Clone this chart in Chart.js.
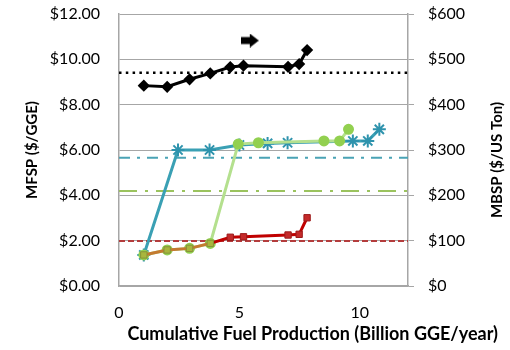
<!DOCTYPE html>
<html>
<head>
<meta charset="utf-8">
<script src="https://cdn.jsdelivr.net/npm/chart.js@4/dist/chart.umd.min.js"></script>
<style>
  html, body { margin: 0; padding: 0; background: #ffffff; }
  #wrap { width: 510px; height: 350px; }
</style>
</head>
<body>
<div id="wrap"><canvas id="c" width="510" height="350"></canvas></div>
<script>
// ---- data ----
const blackX = [1.03, 2.0, 2.93, 3.79, 4.62, 5.17, 7.02, 7.48, 7.81];
const blackY = [8.84, 8.79, 9.12, 9.38, 9.66, 9.72, 9.67, 9.79, 10.41];

const redX = [1.03, 2.0, 2.93, 3.79, 4.62, 5.17, 7.02, 7.48, 7.81];
const redY = [1.37, 1.59, 1.66, 1.88, 2.15, 2.17, 2.25, 2.28, 3.01];

const greenX = [1.03, 2.0, 2.93, 3.79, 4.95, 5.79, 8.51, 9.16, 9.53];
const greenY = [1.37, 1.59, 1.66, 1.88, 6.26, 6.32, 6.40, 6.40, 6.91];

const tealX = [1.03, 2.45, 3.76, 5.0, 6.17, 7.0, 9.71, 10.33, 10.81];
const tealY = [1.37, 6.0, 6.0, 6.22, 6.29, 6.32, 6.40, 6.40, 6.91];

// horizontal reference levels (left-axis units)
const refX = [0, 12];
const blackRef = 9.41;
const tealRef = 5.66;
const greenRef = 4.19;
const redRef = 1.99;

// arrow annotation position
const arrowX = [5.43];
const arrowY = [10.83];

const leftTicks = [0, 2, 4, 6, 8, 10, 12];
const rightTicks = [0, 100, 200, 300, 400, 500, 600];
const xTicks = [0, 5, 10];

const xTitle = 'Cumulative Fuel Production (Billion GGE/year)';
const yLeftTitle = 'MFSP ($/GGE)';
const yRightTitle = 'MBSP ($/US Ton)';

// ---- helpers ----
const pts = (xs, ys) => xs.map((x, i) => ({ x: x, y: ys[i] }));
const flat = (xs, v) => xs.map(x => ({ x: x, y: v }));

// arrow marker image
const arrowImg = document.createElement('canvas');
arrowImg.width = 18; arrowImg.height = 14;
(function () {
  const g = arrowImg.getContext('2d');
  g.fillStyle = '#000';
  g.beginPath();
  g.moveTo(0, 3.5); g.lineTo(9, 3.5); g.lineTo(9, 0); g.lineTo(18, 7);
  g.lineTo(9, 14); g.lineTo(9, 10.5); g.lineTo(0, 10.5);
  g.closePath(); g.fill();
})();

const FONT = 'Lato, "Open Sans", "Liberation Sans", sans-serif';
const GRID = '#a6a6a6';

const redSegColor = ctx => ctx.p1DataIndex <= 3 ? '#c47a30' : '#c00000';
const redPtFill = redX.map((_, i) => i <= 3 ? '#a8b63e' : '#c42a2a');
const redPtBorder = redX.map((_, i) => i <= 3 ? '#86933a' : '#9c1a1a');

// right-axis title, reading bottom-to-top like the reference
const rightTitlePlugin = {
  id: 'rightTitle',
  afterDraw(chart) {
    const s = chart.scales.y2;
    const ctx = chart.ctx;
    ctx.save();
    ctx.translate(s.right - 1, (s.top + s.bottom) / 2 + 10);
    ctx.rotate(-Math.PI / 2);
    ctx.font = 'bold 15px ' + FONT;
    ctx.fillStyle = '#000';
    ctx.textAlign = 'center';
    ctx.textBaseline = 'middle';
    ctx.fillText(yRightTitle, 0, 0);
    ctx.restore();
  }
};

const fitY = w => s => { s.width = w; s.paddingTop = 0; s.paddingBottom = 0; };

new Chart(document.getElementById('c'), {
  type: 'line',
  plugins: [rightTitlePlugin],
  data: {
    datasets: [
      { data: pts(arrowX, arrowY), showLine: false, pointStyle: arrowImg, pointRadius: 9, yAxisID: 'y' },
      { data: pts(blackX, blackY), borderColor: '#000', borderWidth: 3, pointStyle: 'rectRot', pointRadius: 4,
        pointBackgroundColor: '#000', pointBorderColor: '#000', yAxisID: 'y' },
      { data: pts(redX, redY), borderColor: '#c00000', borderWidth: 3,
        segment: { borderColor: redSegColor },
        pointStyle: 'rect', pointRadius: 4.5, pointBorderWidth: 1,
        pointBackgroundColor: redPtFill, pointBorderColor: redPtBorder, yAxisID: 'y' },
      { data: pts(greenX, greenY), borderColor: '#b4e08e', borderWidth: 3, pointStyle: 'circle', pointRadius: 4,
        pointBackgroundColor: '#92d050', pointBorderColor: '#92d050', yAxisID: 'y' },
      { data: pts(tealX, tealY), borderColor: '#3aa0b4', borderWidth: 3, pointStyle: 'star', pointRadius: 6.5,
        pointBorderWidth: 2, pointBackgroundColor: '#2e93ad', pointBorderColor: '#2e93ad', yAxisID: 'y' },
      { data: flat(refX, blackRef), borderColor: '#000', borderWidth: 2.5, borderDash: [2.5, 4.3], pointRadius: 0, yAxisID: 'y' },
      { data: flat(refX, tealRef), borderColor: '#4aa3b5', borderWidth: 2, borderDash: [11, 7, 3, 7], pointRadius: 0, yAxisID: 'y' },
      { data: flat(refX, greenRef), borderColor: '#9bc35e', borderWidth: 2, borderDash: [18, 8, 3, 8], pointRadius: 0, yAxisID: 'y' },
      { data: flat(refX, redRef), borderColor: '#b43c3c', borderWidth: 2, borderDash: [6, 3], pointRadius: 0, yAxisID: 'y' }
    ]
  },
  options: {
    responsive: false,
    animation: false,
    events: [],
    layout: { autoPadding: false, padding: { top: 14, right: 12, left: 0, bottom: 0 } },
    plugins: {
      legend: { display: false },
      tooltip: { enabled: false },
      title: {
        display: true, position: 'bottom', align: 'end', text: xTitle, color: '#000',
        font: { family: FONT, size: 18, weight: 'bold', lineHeight: 1.2 },
        padding: { top: 0, bottom: 5.4 }
      }
    },
    scales: {
      x: {
        type: 'linear', min: 0, max: 12,
        afterFit: s => { s.height = 37; },
        afterBuildTicks: s => { s.ticks = xTicks.map(v => ({ value: v })); },
        ticks: { padding: 17, color: '#000', font: { family: FONT, size: 16 }, maxRotation: 0,
          callback: v => String(v) },
        grid: { display: false, drawTicks: false },
        border: { display: true, color: GRID, width: 1.5 }
      },
      y: {
        type: 'linear', position: 'left', min: 0, max: 12,
        afterFit: fitY(119),
        afterBuildTicks: s => { s.ticks = leftTicks.map(v => ({ value: v })); },
        ticks: { padding: 19, color: '#000', font: { family: FONT, size: 16 },
          callback: v => '$' + Number(v).toFixed(2) },
        grid: { color: GRID, lineWidth: 1, drawTicks: false },
        border: { display: true, color: GRID, width: 1.5 },
        title: { display: true, text: yLeftTitle, color: '#000',
          font: { family: FONT, size: 15, weight: 'bold', lineHeight: 1.2 }, padding: { top: 23.5, bottom: 0 } }
      },
      y2: {
        type: 'linear', position: 'right', min: 0, max: 600,
        afterFit: fitY(90),
        afterBuildTicks: s => { s.ticks = rightTicks.map(v => ({ value: v })); },
        ticks: { padding: 14, color: '#000', font: { family: FONT, size: 16 },
          callback: v => '$' + v },
        grid: { drawOnChartArea: false, drawTicks: true, tickLength: 6, color: GRID, lineWidth: 1 },
        border: { display: true, color: GRID, width: 1.5 },
        title: { display: false }
      }
    }
  }
});
</script>
</body>
</html>
